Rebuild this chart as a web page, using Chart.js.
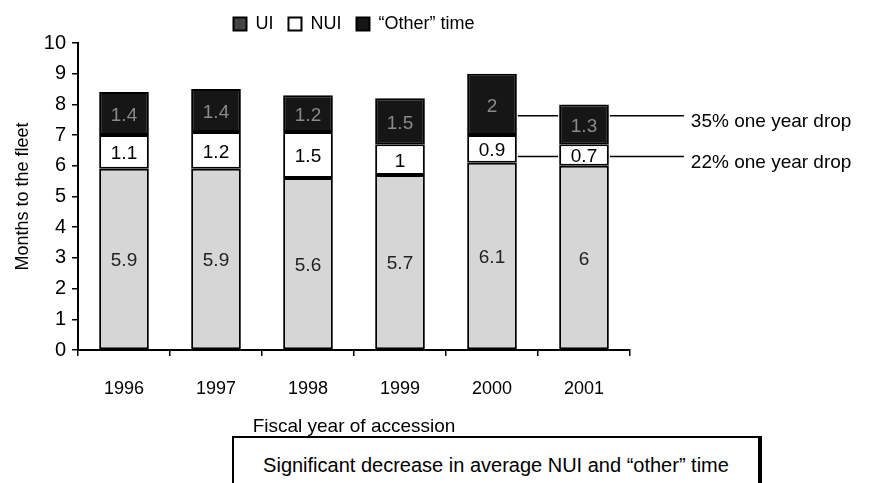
<!DOCTYPE html>
<html>
<head>
<meta charset="utf-8">
<script src="https://cdn.jsdelivr.net/npm/chart.js@4"></script>
<style>
    html, body { margin: 0; padding: 0; background: #fff; }
    #wrap { position: relative; width: 875px; height: 483px; overflow: hidden; }
    #caption {
        position: absolute; left: 232px; top: 436px; width: 530px; height: 60px;
        border: 2px solid #000; border-right-width: 4px; box-sizing: border-box;
        font: 20px "Liberation Sans", Arial, sans-serif; color: #000;
        text-align: center; padding-top: 16px; background: #fff;
    }
</style>
</head>
<body>
<div id="wrap">
    <canvas id="chart" width="875" height="483"></canvas>
    <div id="caption">Significant decrease in average NUI and “other” time</div>
</div>
<script>
// --- Data ---
const years = ['1996', '1997', '1998', '1999', '2000', '2001'];
const uiMonths = [5.9, 5.9, 5.6, 5.7, 6.1, 6];
const nuiMonths = [1.1, 1.2, 1.5, 1, 0.9, 0.7];
const otherMonths = [1.4, 1.4, 1.2, 1.5, 2, 1.3];
const seriesNames = ['UI', 'NUI', '“Other” time'];

// drop callouts between 2000 and 2001 (level on the y scale, text)
const dropLevels = [7.63, 6.3];
const dropTexts = ['35% one year drop', '22% one year drop'];

const FONT = '"Liberation Sans", Arial, sans-serif';
const segColors = ['#d6d6d6', '#ffffff', '#161616'];
const legendFill = ['#444444', '#ffffff', '#161616'];
const labelColors = ['#222222', '#000000', '#8a8a8a'];

// --- Plugins ---
const segmentLabels = {
    id: 'segmentLabels',
    afterDatasetsDraw(chart) {
        const ctx = chart.ctx;
        ctx.save();
        ctx.font = '19px ' + FONT;
        ctx.textAlign = 'center';
        ctx.textBaseline = 'middle';
        chart.data.datasets.forEach((ds, di) => {
            const meta = chart.getDatasetMeta(di);
            meta.data.forEach((bar, i) => {
                const y = (bar.y + bar.base) / 2;
                ctx.fillStyle = labelColors[di];
                ctx.fillText(String(ds.data[i]), bar.x, y + 2);
            });
        });
        ctx.restore();
    }
};

const dropCallouts = {
    id: 'dropCallouts',
    afterDatasetsDraw(chart) {
        const ctx = chart.ctx;
        const yScale = chart.scales.y;
        const meta = chart.getDatasetMeta(2);
        const barA = meta.data[4];
        const barB = meta.data[5];
        const rightA = barA.x + barA.width / 2;
        const leftB = barB.x - barB.width / 2;
        const rightB = barB.x + barB.width / 2;
        ctx.save();
        ctx.strokeStyle = '#000';
        ctx.lineWidth = 1.5;
        ctx.font = '19px ' + FONT;
        ctx.fillStyle = '#000';
        ctx.textBaseline = 'middle';
        dropLevels.forEach((lvl, k) => {
            const y = yScale.getPixelForValue(lvl);
            ctx.beginPath();
            ctx.moveTo(rightA + 1, y);
            ctx.lineTo(leftB - 1, y);
            ctx.moveTo(rightB + 1, y);
            ctx.lineTo(rightB + 75, y);
            ctx.stroke();
            ctx.fillText(dropTexts[k], rightB + 82, y + 6);
        });
        ctx.restore();
    }
};

// --- Chart ---
const seriesData = [uiMonths, nuiMonths, otherMonths];
const datasets = seriesData.map((vals, i) => ({
    label: seriesNames[i],
    data: vals,
    backgroundColor: segColors[i],
    borderColor: '#000',
    borderWidth: 2,
    borderSkipped: false,
    categoryPercentage: 1,
    barPercentage: 0.54
}));

new Chart(document.getElementById('chart').getContext('2d'), {
    type: 'bar',
    data: { labels: years, datasets: datasets },
    plugins: [segmentLabels, dropCallouts],
    options: {
        responsive: false,
        animation: false,
        layout: { padding: { top: 0, left: 0, right: 245, bottom: 43 } },
        plugins: {
            tooltip: { enabled: false },
            legend: {
                position: 'top',
                fullSize: false,
                labels: {
                    color: '#000',
                    font: { family: FONT, size: 18 },
                    boxWidth: 13,
                    boxHeight: 13,
                    padding: 15,
                    generateLabels(chart) {
                        return chart.data.datasets.map((ds, i) => ({
                            text: ds.label,
                            fillStyle: legendFill[i],
                            strokeStyle: '#000',
                            lineWidth: 2,
                            datasetIndex: i
                        }));
                    }
                }
            }
        },
        scales: {
            x: {
                stacked: true,
                afterFit(scale) { scale.height = 90; },
                border: { color: '#000', width: 2 },
                grid: { drawOnChartArea: false, color: '#000', tickLength: 6, lineWidth: 1.5 },
                ticks: { color: '#000', font: { family: FONT, size: 18 }, padding: 22 },
                title: { display: true, text: 'Fiscal year of accession', color: '#000', font: { family: FONT, size: 19 }, padding: { top: 2, bottom: 2 } }
            },
            y: {
                stacked: true,
                min: 0,
                max: 10,
                afterFit(scale) { scale.width = 78; },
                border: { color: '#000', width: 2 },
                grid: { drawOnChartArea: false, color: '#000', tickLength: 6, lineWidth: 1.5 },
                ticks: { stepSize: 1, color: '#000', font: { family: FONT, size: 20 }, padding: 6 },
                title: { display: true, text: 'Months to the fleet', color: '#000', font: { family: FONT, size: 18 }, padding: { top: 12, bottom: 0 } }
            }
        }
    }
});
</script>
</body>
</html>
